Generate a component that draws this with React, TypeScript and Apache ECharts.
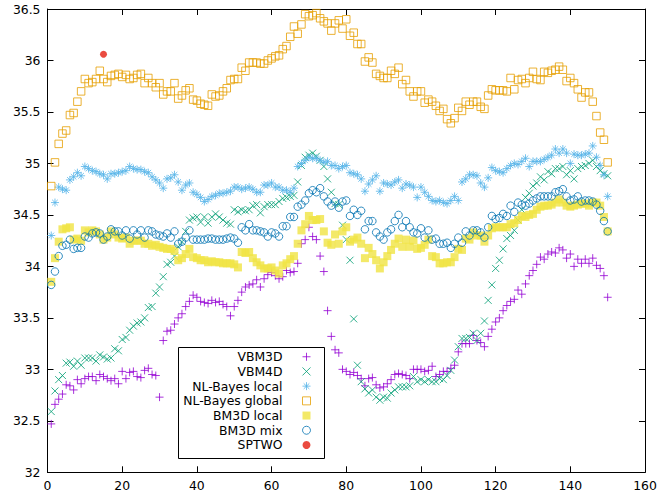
import React, { useEffect, useRef } from "react";
import * as echarts from "echarts";

const seriesNames = ["VBM3D", "VBM4D", "NL-Bayes local", "NL-Bayes global", "BM3D local", "BM3D mix", "SPTWO"];
const xTickValues = [0, 20, 40, 60, 80, 100, 120, 140, 160];
const yTickValues = [32, 32.5, 33, 33.5, 34, 34.5, 35, 35.5, 36, 36.5];

const vbm3d = [
  32.47, 32.66, 32.71, 32.76, 32.85, 32.84, 32.80, 32.90, 32.86, 32.91,
  32.93, 32.93, 32.89, 32.95, 32.93, 32.91, 32.89, 32.91, 32.86, 32.98,
  32.91, 32.97, 32.98, 32.93, 32.92, 32.99, 33.01, 32.95, 32.94, 32.73,
  33.28, 33.37, 33.38, 33.44, 33.50, 33.54, 33.61, 33.66, 33.72, 33.70,
  33.66, 33.65, 33.64, 33.67, 33.65, 33.66, 33.63, 33.61, 33.52, 33.61,
  33.67, 33.75, 33.80, 33.82, 33.83, 33.87, 33.80, 33.88, 33.92, 33.94,
  33.91, 33.88, 33.90, 33.96, 33.94, 33.95, 34.03, 34.22, 34.26, 34.38,
  34.29, 34.26, 34.10, 33.95, 33.57, 33.32, 33.19, 33.16, 33.00, 32.98,
  32.95, 32.97, 32.94, 32.91, 32.84, 32.91, 32.92, 32.85, 32.82, 32.83,
  32.86, 32.90, 32.95, 32.96, 32.95, 32.94, 32.91, 33.00, 33.00, 33.00,
  32.98, 32.99, 33.03, 32.93, 32.95, 32.98, 32.98, 33.01, 33.04, 33.17,
  33.25, 33.25, 33.25, 33.33, 33.28, 33.26, 33.22, 33.32, 33.39, 33.46,
  33.50, 33.57, 33.62, 33.66, 33.68, 33.77, 33.73, 33.83, 33.91, 33.96,
  34.02, 34.09, 34.07, 34.12, 34.14, 34.13, 34.18, 34.16, 34.08, 34.12,
  34.00, 34.07, 34.03, 34.07, 34.03, 34.08, 34.01, 33.98, 33.91, 33.70,
];

const vbm4d = [
  32.59, 32.79, 32.90, 32.94, 33.06, 33.07, 33.03, 33.08, 33.04, 33.11,
  33.11, 33.11, 33.08, 33.14, 33.12, 33.10, 33.11, 33.20, 33.18, 33.29,
  33.31, 33.38, 33.42, 33.45, 33.46, 33.50, 33.60, 33.61, 33.74, 33.80,
  33.90, 34.02, 34.04, 34.10, 34.19, 34.24, 34.34, 34.45, 34.47, 34.48,
  34.43, 34.48, 34.42, 34.48, 34.51, 34.48, 34.45, 34.42, 34.41, 34.55,
  34.53, 34.55, 34.54, 34.55, 34.59, 34.60, 34.52, 34.58, 34.60, 34.60,
  34.60, 34.63, 34.66, 34.67, 34.68, 34.69, 34.82, 34.98, 35.06, 35.08,
  35.10, 35.07, 35.03, 34.97, 34.85, 34.72, 34.61, 34.60, 34.40, 34.26,
  34.06, 33.49, 33.04, 32.88, 32.81, 32.77, 32.80, 32.73, 32.70, 32.73,
  32.72, 32.77, 32.80, 32.83, 32.83, 32.83, 32.84, 32.93, 32.88, 32.90,
  32.88, 32.90, 32.88, 32.88, 32.91, 32.90, 32.94, 32.99, 33.09, 33.22,
  33.30, 33.30, 33.31, 33.35, 33.28, 33.35, 33.47, 33.67, 33.82, 33.98,
  34.06, 34.17, 34.27, 34.30, 34.35, 34.45, 34.55, 34.67, 34.71, 34.78,
  34.81, 34.87, 34.84, 34.92, 34.90, 34.95, 34.95, 34.97, 34.89, 34.93,
  34.85, 34.95, 34.97, 34.98, 35.00, 35.03, 34.97, 34.93, 34.90, 34.88,
];

const nlBayesLocal = [
  34.30, 34.62, 34.77, 34.75, 34.74, 34.84, 34.87, 34.91, 34.88, 34.97,
  34.95, 34.93, 34.92, 34.90, 34.89, 34.85, 34.90, 34.90, 34.91, 34.92,
  34.93, 34.97, 34.95, 34.94, 34.94, 34.92, 34.91, 34.87, 34.84, 34.81,
  34.76, 34.85, 34.86, 34.89, 34.82, 34.74, 34.79, 34.81, 34.72, 34.70,
  34.67, 34.63, 34.65, 34.68, 34.69, 34.71, 34.71, 34.72, 34.73, 34.77,
  34.77, 34.75, 34.76, 34.77, 34.75, 34.72, 34.72, 34.79, 34.79, 34.81,
  34.77, 34.77, 34.74, 34.74, 34.72, 34.76, 34.97, 35.00, 35.03, 35.06,
  35.05, 35.05, 35.03, 35.01, 35.02, 34.98, 34.98, 34.95, 34.97, 34.98,
  34.91, 34.90, 34.89, 34.85, 34.73, 34.80, 34.84, 34.88, 34.73, 34.81,
  34.80, 34.79, 34.82, 34.84, 34.76, 34.80, 34.79, 34.77, 34.67, 34.77,
  34.72, 34.68, 34.64, 34.63, 34.64, 34.62, 34.61, 34.64, 34.68, 34.64,
  34.82, 34.85, 34.89, 34.89, 34.88, 34.81, 34.77, 34.86, 34.96, 34.93,
  34.92, 34.91, 34.95, 34.98, 35.00, 34.99, 35.02, 35.05, 34.97, 35.02,
  35.02, 35.02, 35.04, 35.06, 35.08, 35.14, 35.10, 35.14, 35.10, 35.00,
  35.09, 35.08, 35.08, 35.09, 35.10, 35.17, 35.06, 34.98, 34.89, 34.68,
];

const nlBayesGlobal = [
  34.78, 35.01, 35.19, 35.29, 35.32, 35.47, 35.49, 35.60, 35.70, 35.82,
  35.78, 35.79, 35.82, 35.90, 35.82, 35.79, 35.85, 35.86, 35.87, 35.84,
  35.86, 35.82, 35.83, 35.86, 35.87, 35.78, 35.83, 35.78, 35.74, 35.78,
  35.67, 35.70, 35.70, 35.78, 35.63, 35.66, 35.71, 35.73, 35.62, 35.61,
  35.58, 35.57, 35.56, 35.67, 35.65, 35.66, 35.70, 35.73, 35.81, 35.82,
  35.82, 35.93, 35.90, 35.98, 35.98, 35.98, 35.97, 35.97, 36.00, 36.02,
  36.04, 36.05, 36.11, 36.14, 36.23, 36.33, 36.26, 36.35, 36.45, 36.43,
  36.44, 36.46, 36.41, 36.38, 36.36, 36.29, 36.36, 36.39, 36.31, 36.40,
  36.24, 36.27, 36.16, 36.16, 35.99, 36.03, 35.98, 35.87, 35.85, 35.83,
  35.83, 35.90, 35.87, 35.93, 35.77, 35.81, 35.70, 35.65, 35.70, 35.70,
  35.59, 35.62, 35.60, 35.56, 35.51, 35.53, 35.43, 35.39, 35.44, 35.54,
  35.51, 35.60, 35.57, 35.60, 35.60, 35.55, 35.53, 35.66, 35.72, 35.71,
  35.71, 35.71, 35.70, 35.83, 35.72, 35.81, 35.82, 35.78, 35.83, 35.89,
  35.82, 35.81, 35.89, 35.88, 35.90, 35.91, 35.94, 35.91, 35.80, 35.83,
  35.78, 35.72, 35.64, 35.69, 35.69, 35.60, 35.46, 35.30, 35.23, 35.01,
];

const bm3dLocal = [
  33.85, 34.08, 34.24, 34.36, 34.37, 34.38, 34.26, 34.27, 34.25, 34.35,
  34.33, 34.35, 34.34, 34.31, 34.26, 34.28, 34.34, 34.31, 34.28, 34.27,
  34.28, 34.22, 34.25, 34.25, 34.25, 34.22, 34.22, 34.20, 34.21, 34.19,
  34.18, 34.17, 34.17, 34.15, 34.06, 34.08, 34.12, 34.17, 34.09, 34.08,
  34.06, 34.06, 34.04, 34.05, 34.04, 34.04, 34.03, 34.03, 34.03, 34.02,
  33.99, 34.14, 34.13, 34.14, 34.08, 34.04, 34.01, 33.98, 33.98, 33.99,
  33.96, 33.93, 34.01, 34.03, 34.07, 34.10, 34.22, 34.35, 34.41, 34.49,
  34.45, 34.45, 34.46, 34.34, 34.23, 34.21, 34.31, 34.22, 34.34, 34.38,
  34.24, 34.26, 34.28, 34.22, 34.08, 34.18, 34.12, 34.06, 33.98, 34.04,
  34.10, 34.16, 34.22, 34.27, 34.19, 34.26, 34.19, 34.25, 34.17, 34.18,
  34.21, 34.26, 34.10, 34.09, 34.03, 34.03, 34.04, 34.04, 34.09, 34.17,
  34.16, 34.27, 34.26, 34.33, 34.30, 34.30, 34.24, 34.30, 34.37, 34.38,
  34.38, 34.38, 34.38, 34.41, 34.42, 34.45, 34.49, 34.48, 34.50, 34.51,
  34.55, 34.58, 34.59, 34.59, 34.60, 34.62, 34.65, 34.62, 34.59, 34.58,
  34.59, 34.60, 34.61, 34.61, 34.59, 34.62, 34.62, 34.59, 34.48, 34.34,
];

const bm3dMix = [
  33.82, 33.95, 34.10, 34.20, 34.21, 34.26, 34.17, 34.18, 34.18, 34.29,
  34.28, 34.32, 34.33, 34.32, 34.26, 34.29, 34.36, 34.34, 34.34, 34.30,
  34.35, 34.27, 34.35, 34.31, 34.35, 34.28, 34.35, 34.34, 34.31, 34.30,
  34.29, 34.32, 34.28, 34.34, 34.22, 34.24, 34.28, 34.35, 34.26, 34.26,
  34.26, 34.26, 34.27, 34.27, 34.26, 34.26, 34.26, 34.27, 34.28, 34.27,
  34.23, 34.38, 34.35, 34.41, 34.35, 34.35, 34.34, 34.33, 34.29, 34.33,
  34.32, 34.29, 34.39, 34.39, 34.48, 34.48, 34.58, 34.60, 34.64, 34.71,
  34.74, 34.72, 34.76, 34.68, 34.63, 34.59, 34.63, 34.57, 34.63, 34.64,
  34.49, 34.55, 34.50, 34.54, 34.36, 34.44, 34.44, 34.33, 34.29, 34.26,
  34.33, 34.36, 34.44, 34.50, 34.38, 34.44, 34.38, 34.33, 34.32, 34.37,
  34.28, 34.35, 34.26, 34.27, 34.22, 34.22, 34.23, 34.18, 34.22, 34.28,
  34.23, 34.34, 34.30, 34.35, 34.35, 34.33, 34.28, 34.38, 34.49, 34.46,
  34.47, 34.51, 34.49, 34.59, 34.53, 34.62, 34.60, 34.59, 34.61, 34.64,
  34.66, 34.68, 34.68, 34.68, 34.68, 34.72, 34.73, 34.75, 34.68, 34.64,
  34.65, 34.68, 34.63, 34.64, 34.64, 34.63, 34.60, 34.54, 34.44, 34.34,
];

const sptwoFrame = [15];
const sptwoValue = [36.06];

const toPoints = (vals: number[]) => vals.map((v, i) => [i + 1, v]);

const FONT = "DejaVu Sans";
const FONT_SIZE = 12.4;
const PLUS = "path://M5,0L5,10M0,5L10,5";
const CROSS = "path://M0,0L10,10M0,10L10,0";
const STAR = "path://M5,0L5,10M0,5L10,5M1.5,1.5L8.5,8.5M1.5,8.5L8.5,1.5";
const SQUARE = "path://M0,0L10,0L10,10L0,10Z";

export default function App() {
  const ref = useRef<HTMLDivElement>(null);
  useEffect(() => {
    if (!ref.current) return;
    const chart = echarts.init(ref.current, null, { renderer: "svg" });
    const axisLine = { show: true, onZero: false, lineStyle: { color: "#000", width: 1 } };
    const tick = { show: true, inside: true, length: 6, lineStyle: { color: "#000", width: 1 } };
    const xBase = { type: "value", min: 0, max: 160, interval: 20, splitLine: { show: false }, axisLine, axisTick: tick };
    const yBase = { type: "value", min: 32, max: 36.5, interval: 0.5, splitLine: { show: false }, axisLine, axisTick: tick };
    const mk = (name: string, data: any[], symbol: string, size: number, itemStyle: any) => ({
      name,
      type: "scatter",
      data,
      symbol,
      symbolSize: size,
      itemStyle,
      xAxisIndex: 0,
      yAxisIndex: 0,
      silent: true,
    });
    chart.setOption({
      animation: false,
      backgroundColor: "#fff",
      grid: { left: 47.5, right: 16, top: 9, bottom: 22.7, containLabel: false },
      xAxis: [
        {
          ...xBase,
          position: "bottom",
          axisLabel: {
            color: "#000",
            fontSize: FONT_SIZE,
            fontFamily: FONT,
            margin: 7,
            formatter: (v: number) => (xTickValues.includes(v) ? String(v) : ""),
          },
        },
        { ...xBase, position: "top", axisLabel: { show: false } },
      ],
      yAxis: [
        {
          ...yBase,
          position: "left",
          axisLabel: {
            color: "#000",
            fontSize: FONT_SIZE,
            fontFamily: FONT,
            margin: 7,
            formatter: (v: number) => (yTickValues.includes(v) ? String(v) : ""),
          },
        },
        { ...yBase, position: "right", axisLabel: { show: false } },
      ],
      legend: {
        data: seriesNames,
        orient: "vertical",
        align: "right",
        right: 348,
        top: 349.4,
        padding: 0,
        itemGap: 0,
        itemWidth: 38,
        itemHeight: 8,
        selectedMode: false,
        itemStyle: { borderWidth: 1 },
        textStyle: { color: "#000", fontSize: FONT_SIZE, fontFamily: FONT, lineHeight: 14.7 },
      },
      graphic: [
        {
          type: "rect",
          shape: { x: 178.5, y: 347.5, width: 146, height: 111 },
          style: { fill: "none", stroke: "#000", lineWidth: 1 },
          z: 100,
        },
      ],
      series: [
        mk(seriesNames[0], toPoints(vbm3d), PLUS, 8, { color: "none", borderColor: "#9400d3", borderWidth: 1 }),
        mk(seriesNames[1], toPoints(vbm4d), CROSS, 7, { color: "none", borderColor: "#009e73", borderWidth: 1 }),
        mk(seriesNames[2], toPoints(nlBayesLocal), STAR, 8, { color: "none", borderColor: "#56b4e9", borderWidth: 1 }),
        mk(seriesNames[3], toPoints(nlBayesGlobal), SQUARE, 7.5, { color: "none", borderColor: "#e69f00", borderWidth: 1 }),
        mk(seriesNames[4], toPoints(bm3dLocal), SQUARE, 8, { color: "#f0e442", borderWidth: 0 }),
        mk(seriesNames[5], toPoints(bm3dMix), "circle", 7.5, { color: "none", borderColor: "#0072b2", borderWidth: 1 }),
        mk(seriesNames[6], sptwoFrame.map((f, i) => [f, sptwoValue[i]]), "circle", 7, { color: "#e51e10", borderWidth: 0 }),
      ],
    });
    return () => chart.dispose();
  }, []);
  return (
    <div
      ref={ref}
      style={{ position: "absolute", left: 0, top: 0, width: 661, height: 495, background: "#fff" }}
    />
  );
}
